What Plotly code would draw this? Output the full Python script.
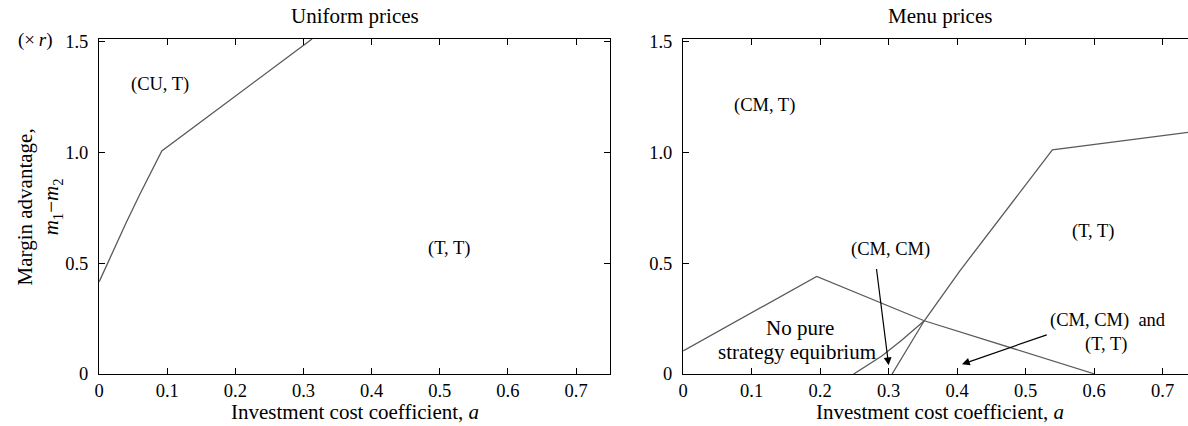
import plotly.graph_objects as go

# ---------------- data ----------------
# Uniform prices: boundary between (CU, T) and (T, T)
uniform_a = [0.0, 0.02, 0.04, 0.06, 0.08, 0.092, 0.3125]
uniform_m = [0.415, 0.552, 0.684, 0.811, 0.933, 1.005, 1.51]

# Menu prices boundaries
menu_tri_a = [0.0, 0.195, 0.352, 0.601]
menu_tri_m = [0.104, 0.44, 0.24, 0.0]

menu_curve_a = [0.249, 0.29, 0.319, 0.352]
menu_curve_m = [0.0, 0.081, 0.152, 0.24]

menu_steep_a = [0.305, 0.352, 0.404, 0.539, 0.75]
menu_steep_m = [0.0, 0.24, 0.465, 1.01, 1.094]

x_tickvals = [0, 0.1, 0.2, 0.3, 0.4, 0.5, 0.6, 0.7]
x_ticktext = ["0", "0.1", "0.2", "0.3", "0.4", "0.5", "0.6", "0.7"]
y_tickvals = [0, 0.5, 1.0, 1.5]
y_ticktext = ["0", "0.5", "1.0", "1.5"]

# ---------------- style ----------------
FONT = "Liberation Serif"
W, H = 1188, 426
TOP, BOT = 39, 374
L1, R1 = 94.5, 607.7
L2, R2 = 681.0, 1188.0
TICKFS = 18.5
LBLFS = 18.5
TTLFS = 21
CURVE = "#5a5a5a"

fig = go.Figure()

line_style = dict(color=CURVE, width=1.3)
fig.add_trace(go.Scatter(x=uniform_a, y=uniform_m, mode="lines", line=line_style,
                         xaxis="x", yaxis="y", showlegend=False, hoverinfo="skip"))
for xa, ya in [(menu_tri_a, menu_tri_m), (menu_curve_a, menu_curve_m),
               (menu_steep_a, menu_steep_m)]:
    fig.add_trace(go.Scatter(x=xa, y=ya, mode="lines", line=line_style,
                             xaxis="x2", yaxis="y2", showlegend=False, hoverinfo="skip"))

axis_common = dict(
    showline=True, linecolor="black", linewidth=1.3,
    ticks="inside", ticklen=6, tickwidth=1.2, tickcolor="black",
    showgrid=False, zeroline=False,
    tickfont=dict(family=FONT, size=TICKFS, color="black"),
)

fig.update_layout(
    width=W, height=H,
    margin=dict(l=0, r=0, t=TOP, b=H - BOT, pad=0),
    paper_bgcolor="white", plot_bgcolor="white",
    font=dict(family=FONT, color="black"),
    xaxis=dict(domain=[L1 / W, R1 / W], range=[0, 0.75], mirror="ticks",
               tickvals=x_tickvals, ticktext=x_ticktext, anchor="y", **axis_common),
    yaxis=dict(domain=[0, 1], range=[0, 1.51], mirror="ticks", ticklabelstandoff=6,
               tickvals=y_tickvals, ticktext=y_ticktext, anchor="x", **axis_common),
    xaxis2=dict(domain=[L2 / W, R2 / W], range=[0, 0.737], mirror="ticks",
                tickvals=x_tickvals, ticktext=x_ticktext, anchor="y2", **axis_common),
    yaxis2=dict(domain=[0, 1], range=[0, 1.51], mirror=False, ticklabelstandoff=6,
                tickvals=y_tickvals, ticktext=y_ticktext, anchor="x2", **axis_common),
)

ann = []

def txt(x, y, s, xref, yref, size=LBLFS, **kw):
    d = dict(x=x, y=y, text=s, xref=xref, yref=yref, showarrow=False,
             font=dict(family=FONT, size=size, color="black"),
             xanchor="center", yanchor="middle")
    d.update(kw)
    ann.append(d)

# region labels, left
txt(0.09, 1.305, "(CU, T)", "x", "y")
txt(0.514, 0.566, "(T, T)", "x", "y")
# region labels, right
txt(0.119, 1.212, "(CM, T)", "x2", "y2")
txt(0.598, 0.642, "(T, T)", "x2", "y2")
txt(0.302, 0.562, "(CM, CM)", "x2", "y2")
txt(0.171, 0.209, "No pure", "x2", "y2", size=21)
txt(0.166, 0.099, "strategy equibrium", "x2", "y2", size=21)
txt(0.62, 0.24, "(CM, CM)\u00a0 and", "x2", "y2")
txt(0.618, 0.131, "(T, T)", "x2", "y2")

# arrows
for (hx, hy, tx, ty) in [(0.300, 0.04, 0.282, 0.48), (0.407, 0.044, 0.533, 0.179)]:
    ann.append(dict(x=hx, y=hy, ax=tx, ay=ty, xref="x2", yref="y2",
                    axref="x2", ayref="y2", text="", showarrow=True,
                    arrowhead=2, arrowsize=1.3, arrowwidth=1.2, arrowcolor="black",
                    standoff=0, startstandoff=0))

# titles
ph = BOT - TOP
def py(pix):
    return (BOT - pix) / ph

txt((L1 + R1) / 2 / W, py(16), "Uniform prices", "paper", "paper", size=TTLFS)
txt((L2 + 1196.8) / 2 / W, py(16), "Menu prices", "paper", "paper", size=TTLFS)
txt((L1 + R1) / 2 / W, py(412), "Investment cost coefficient, <i>a</i>", "paper", "paper", size=TTLFS)
txt((L2 + 1196.8) / 2 / W, py(412), "Investment cost coefficient, <i>a</i>", "paper", "paper", size=TTLFS)

# y axis title (two rotated lines) and unit
txt(20 / W, 0.5, "Margin advantage,", "paper", "paper", size=TTLFS, textangle=-90)
txt(47 / W, 0.5, "<i>m</i><sub>1</sub>\u2212<i>m</i><sub>2</sub>", "paper", "paper", size=TTLFS, textangle=-90)
txt(31 / W, py(40), "(\u00d7\u2009<i>r</i>)", "paper", "paper", size=19)

fig.update_layout(annotations=ann)

fig.write_html("out.html", config={"displayModeBar": False},
               post_script="document.body.style.margin='0';document.body.style.padding='0';")
